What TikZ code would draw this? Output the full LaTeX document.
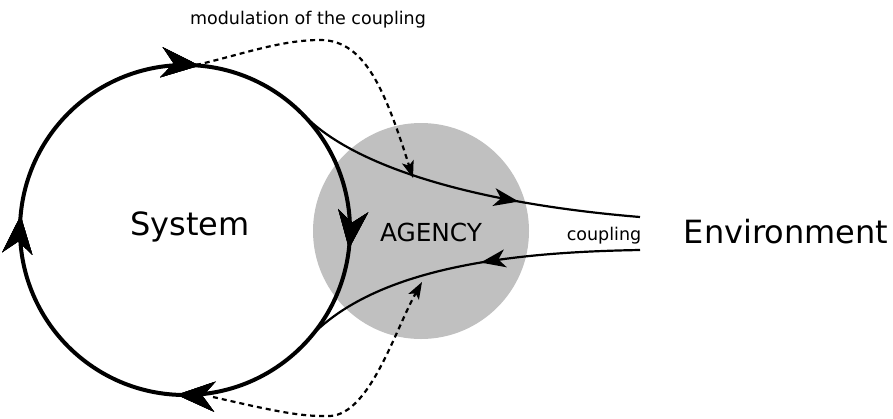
\documentclass[tikz,border=0pt]{standalone}
\usepackage{fontspec}
\setmainfont{DejaVu Sans}
\usetikzlibrary{arrows.meta, decorations.markings}

\definecolor{agencygray}{RGB}{192,192,192}

\tikzset{
  loopline/.style = {line width = 4pt},
  coupleline/.style = {line width = 2.2pt},
  modline/.style = {line width = 2.2pt, dash pattern = on 5pt off 4pt,
    -{Stealth[length = 17pt, width = 12pt, inset = 4pt]}},
  bigtip/.style = {decoration = {markings, mark = at position #1 with
    {\arrow{Stealth[length = 38pt, width = 30pt, inset = 12pt]}}}, postaction = {decorate}},
  smalltip/.style = {decoration = {markings, mark = at position #1 with
    {\arrow{Stealth[length = 25pt, width = 18pt, inset = 7pt]}}}, postaction = {decorate}}
}

\begin{document}
\begin{tikzpicture}[x = 1pt, y = -1pt]
      \useasboundingbox (0, 0) rectangle (893, 418);

      \fill [agencygray] (421, 231) circle [radius = 108];

      \coordinate (loopc) at (185, 230);
      \draw [loopline, bigtip = 0.018, bigtip = 0.258, bigtip = 0.514, bigtip = 0.764]
        (loopc) circle [radius = 165];

      \coordinate (outS) at (302, 113);
      \coordinate (outE) at (640, 217);
      \coordinate (inE) at (640, 250);
      \coordinate (inS) at (311, 336);
      \draw [coupleline, smalltip = 0.66] (outS) .. controls (350, 165) and (470, 203) .. (outE);
      \draw [coupleline, smalltip = 0.46] (inE) .. controls (520, 252) and (380, 265) .. (inS);

      \coordinate (modTopS) at (196, 65);
      \coordinate (modTopE) at (413, 178);
      \coordinate (modBotS) at (213, 397);
      \coordinate (modBotE) at (422, 282);
      \draw [modline] (modTopS) .. controls (240, 55) and (280, 40) .. (320, 40)
        .. controls (365, 40) and (385, 90) .. (modTopE);
      \draw [modline] (modBotS) .. controls (270, 410) and (300, 417) .. (330, 416)
        .. controls (370, 414) and (395, 330) .. (modBotE);

      \node (system) at (190, 227) {\fontsize{32}{38}\selectfont System};
      \node (agency) at (431, 232) {\fontsize{24.8}{30}\selectfont AGENCY};
      \node (coupling) at (604, 236) {\fontsize{17.5}{21}\selectfont coupling};
      \node (env) at (786, 232) {\fontsize{32}{38}\selectfont Environment};
      \node (modulation) at (308, 20) {\fontsize{17.5}{21}\selectfont modulation of the coupling};
    \end{tikzpicture}
\end{document}
